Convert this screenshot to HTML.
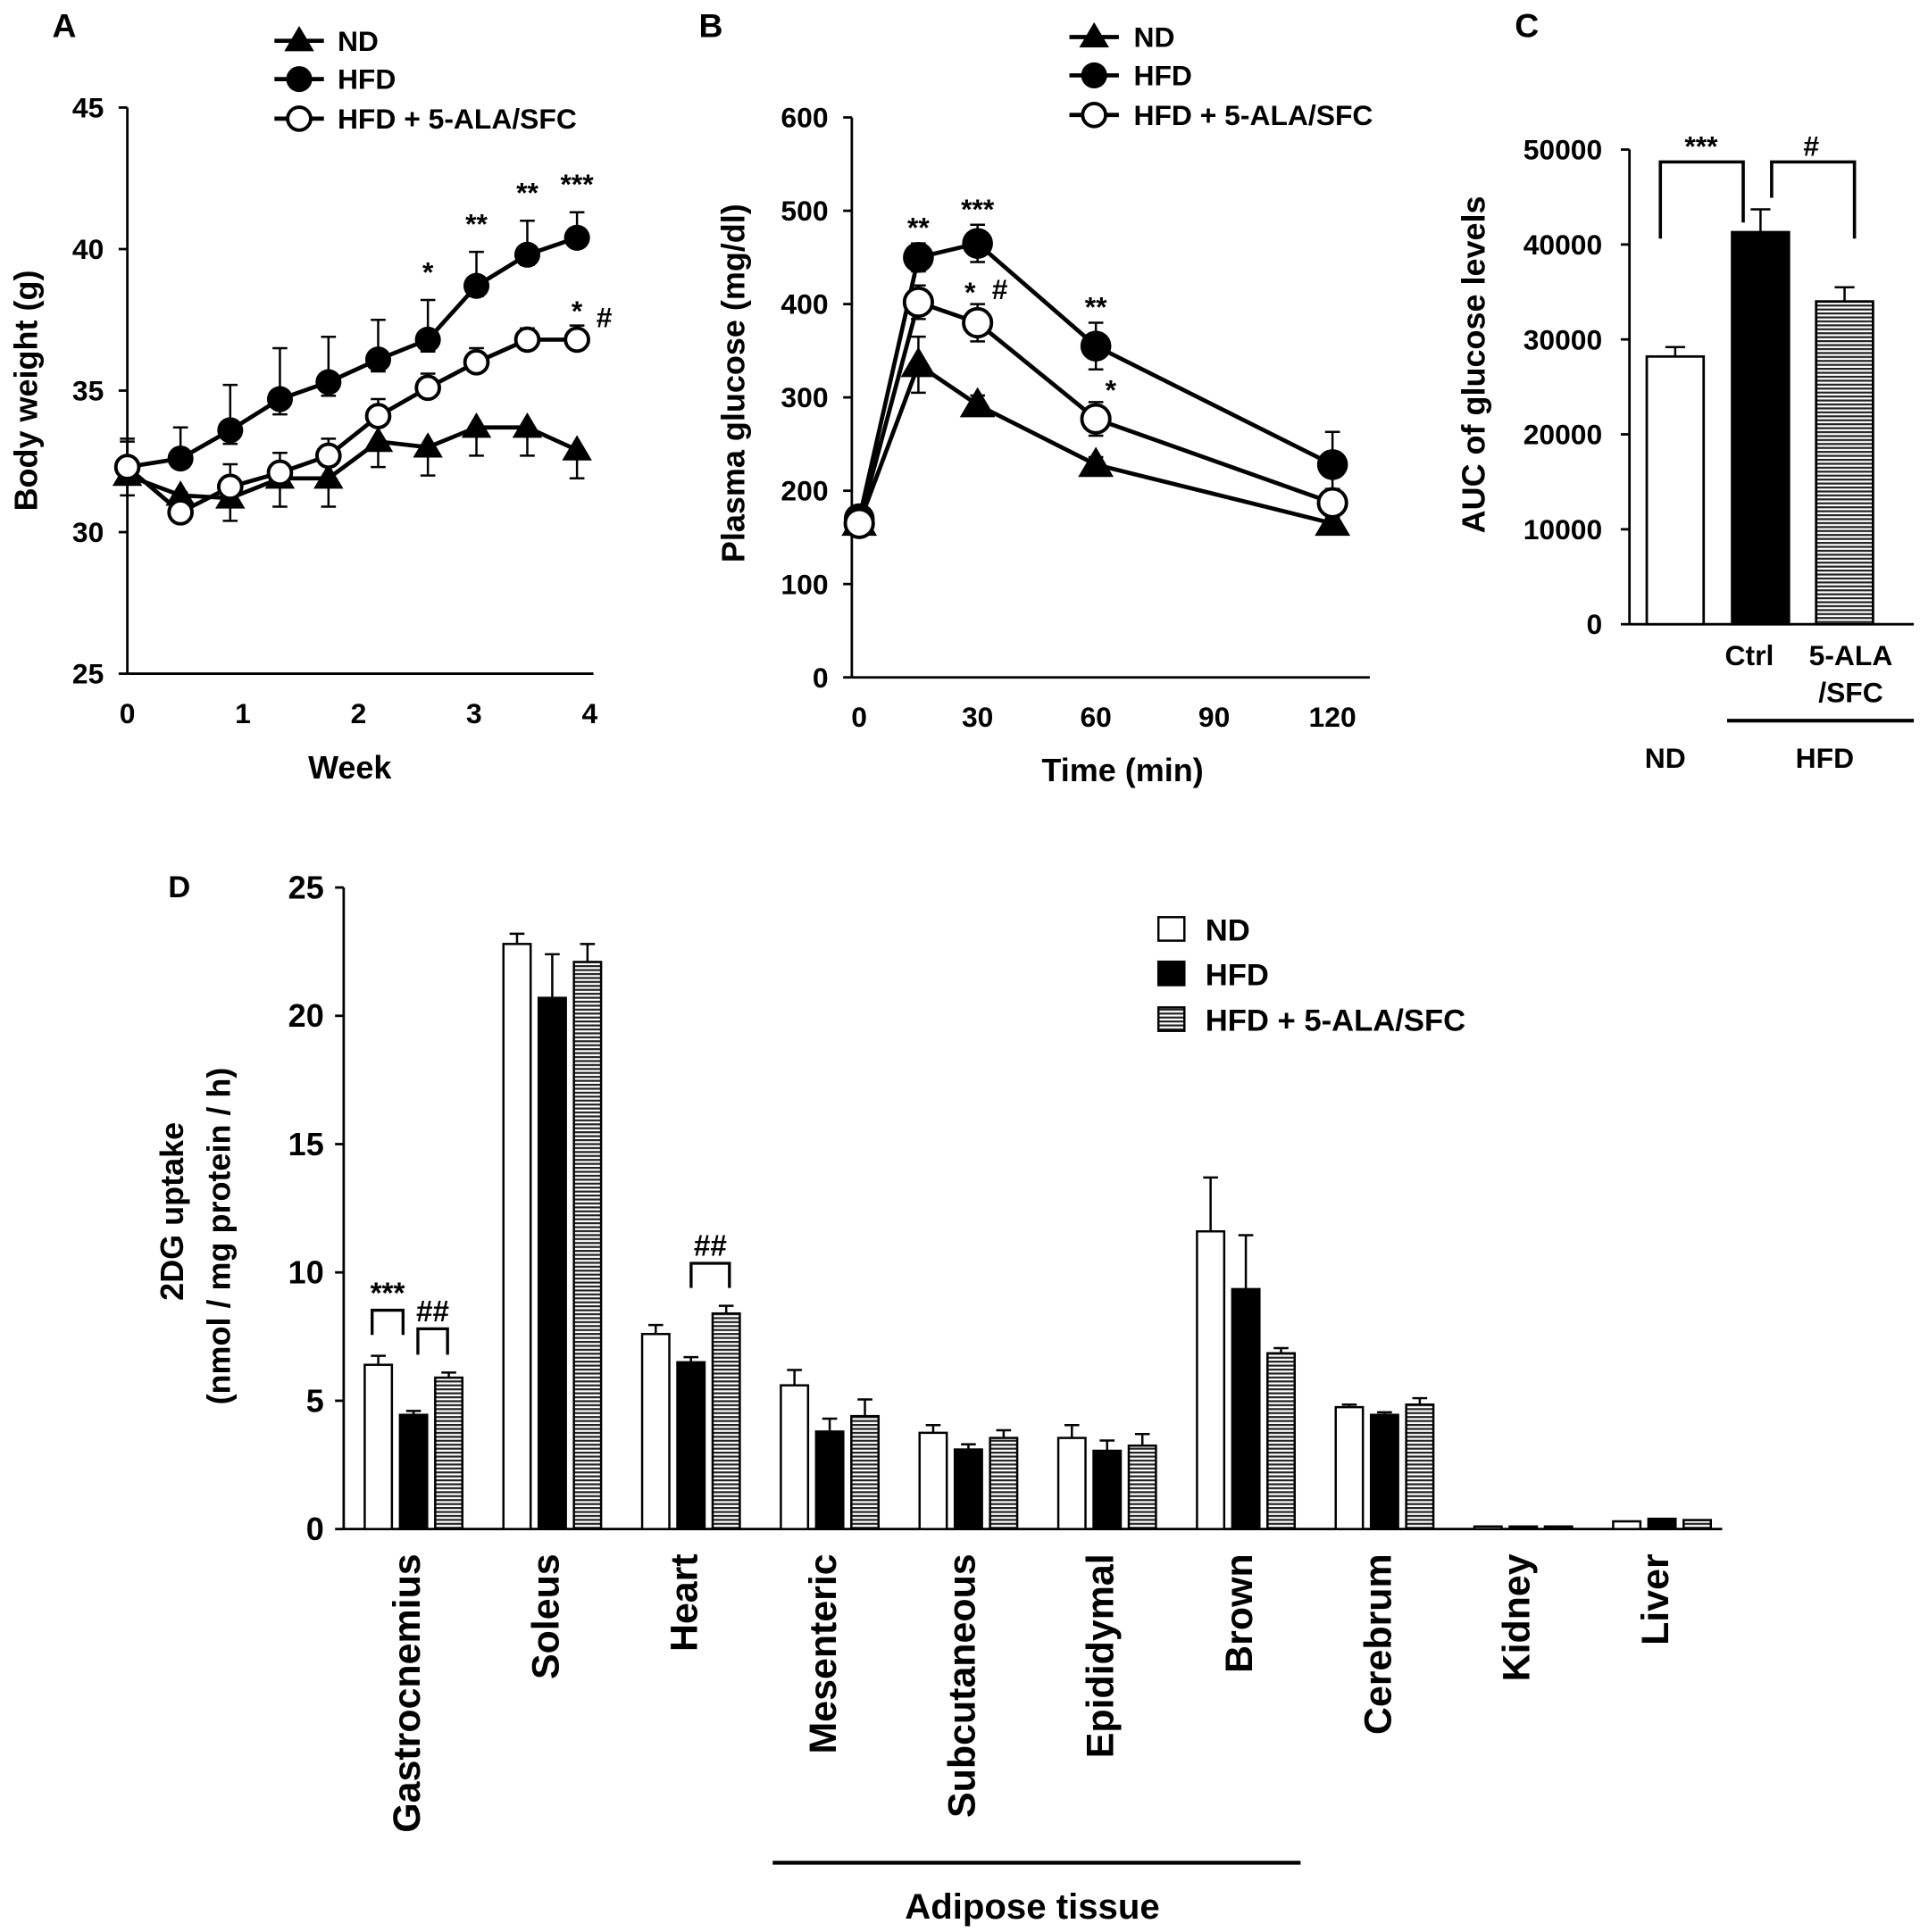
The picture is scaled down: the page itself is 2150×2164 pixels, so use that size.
<!DOCTYPE html>
<html><head><meta charset="utf-8"><style>
html,body{margin:0;padding:0;background:#fff}
svg{display:block}
text{font-family:"Liberation Sans",Arial,sans-serif;font-weight:bold;fill:#000}
</style></head><body>
<svg id="fig" width="2150" height="2164" viewBox="0 0 1553 1563" preserveAspectRatio="none" xmlns="http://www.w3.org/2000/svg">
<defs>
<pattern id="hatch" width="4" height="3.2" patternUnits="userSpaceOnUse"><rect width="4" height="3.2" fill="#fff"/><rect width="4" height="1.6" fill="#222"/></pattern>
</defs>
<g id="gA"></g>
<g id="gB"></g>
<g id="gC"></g>
<g id="gD"></g>
</svg>
<script>
// ---- Panel A data ----
const aWeeks=[0,0.46,0.89,1.32,1.74,2.17,2.6,3.02,3.46,3.89];
const aND=[32.0,31.3,31.2,31.9,31.9,33.2,33.0,33.7,33.7,32.9];
const aNDerr=[0.7,0.6,0.8,1.0,1.0,0.9,1.0,1.0,1.0,1.0];
const aHFD=[32.3,32.6,33.6,34.7,35.3,36.1,36.8,38.7,39.8,40.4];
const aHFDerr=[1.0,1.1,1.6,1.8,1.6,1.4,1.4,1.2,1.2,0.9];
const aALA=[32.3,30.7,31.6,32.1,32.7,34.1,35.1,36.0,36.8,36.8];
const aALAerr=[0.9,0.7,0.8,0.7,0.6,0.6,0.5,0.5,0.4,0.5];
const aYTicks=[25,30,35,40,45];
const aXTicks=[0,1,2,3,4];
// ---- Panel B data ----
const bTimes=[0,15,30,60,120];
const bND=[165,335,292,228,165];
const bNDerr=[5,30,10,8,5];
const bHFD=[170,450,465,355,228];
const bHFDerr=[10,15,20,25,35];
const bALA=[165,402,380,277,187];
const bALAerr=[10,18,20,18,15];
const bYTicks=[0,100,200,300,400,500,600];
const bXTicks=[0,30,60,90,120];
// ---- Panel C data ----
const cGroups=["ND","Ctrl","5-ALA/SFC"];
const cValues=[28200,41300,34000];
const cErrors=[1000,2400,1500];
const cYTicks=[0,10000,20000,30000,40000,50000];
// ---- Panel D data ----
const dTissues=["Gastrocnemius","Soleus","Heart","Mesenteric","Subcutaneous","Epididymal","Brown","Cerebrum","Kidney","Liver"];
const dND=[6.4,22.8,7.6,5.6,3.75,3.55,11.6,4.75,0.1,0.3];
const dNDerr=[0.35,0.4,0.35,0.6,0.3,0.5,2.1,0.1,0,0];
const dHFD=[4.45,20.7,6.5,3.8,3.1,3.05,9.35,4.45,0.1,0.4];
const dHFDerr=[0.15,1.7,0.2,0.5,0.2,0.4,2.1,0.1,0,0];
const dALA=[5.9,22.1,8.4,4.4,3.55,3.25,6.85,4.85,0.1,0.35];
const dALAerr=[0.2,0.7,0.3,0.65,0.3,0.45,0.2,0.25,0,0];
const dYTicks=[0,5,10,15,20,25];

const NS="http://www.w3.org/2000/svg";
function mk(parent,tag,attrs,txt){const e=document.createElementNS(NS,tag);for(const k in attrs)e.setAttribute(k,attrs[k]);if(txt!==undefined)e.textContent=txt;parent.appendChild(e);return e;}
function line(p,x1,y1,x2,y2,w){return mk(p,'line',{x1,y1,x2,y2,stroke:'#000','stroke-width':w||2});}
function txt(p,x,y,s,size,anchor,extra){const a={x,y,'font-size':size,'text-anchor':anchor||'middle'};if(extra)for(const k in extra)a[k]=extra[k];return mk(p,'text',a,s);}
function marker(p,type,x,y,r){
  if(type==='tri') return mk(p,'polygon',{points:`${x},${y-r*1.15} ${x-r*1.15},${y+r*0.8} ${x+r*1.15},${y+r*0.8}`,fill:'#000'});
  if(type==='dot') return mk(p,'circle',{cx:x,cy:y,r:r,fill:'#000'});
  return mk(p,'circle',{cx:x,cy:y,r:r-1.2,fill:'#fff',stroke:'#000','stroke-width':2.8});
}
function errbar(p,x,y1,y2,cap){line(p,x,y1,x,y2,1.8);line(p,x-cap,y2,x+cap,y2,1.8);}

// ===== Panel A =====
(function(){
  const g=document.getElementById('gA');
  const X=w=>103+w*93.5, Y=v=>545-(v-25)*(458/20);
  txt(g,52,30,'A',27);
  line(g,103,87,103,545);line(g,103,545,480,545);
  aYTicks.forEach(t=>{line(g,96,Y(t),103,Y(t));const e=txt(g,84,Y(t)+8,t,23,'end');});
  aXTicks.forEach(t=>{const e=txt(g,X(t),585,t,23);});
  const xt=txt(g,283,630,'Week',26);
  const yt=txt(g,0,0,'Body  weight (g)',26,'middle',{transform:'translate(30,316) rotate(-90)'});
  const series=[[aND,aNDerr,'tri',-1],[aHFD,aHFDerr,'dot',1],[aALA,aALAerr,'open',1]];
  series.forEach(([vals,err,type,dir])=>{
    vals.forEach((v,i)=>{errbar(g,X(aWeeks[i]),Y(v),Y(v+dir*err[i]),6);if(type==='dot'||type==='open')errbar(g,X(aWeeks[i]),Y(v),Y(v-err[i]*0.3),6);});
    const pts=vals.map((v,i)=>X(aWeeks[i])+','+Y(v)).join(' ');
    const pl=mk(g,'polyline',{points:pts,fill:'none',stroke:'#000','stroke-width':3.4});
    
  });
  series.forEach(([vals,err,type])=>{vals.forEach((v,i)=>{const m=marker(g,type,X(aWeeks[i]),Y(v),10.5);});});
  const ann=[[6,'*'],[7,'**'],[8,'**'],[9,'***']];
  ann.forEach(([i,s])=>txt(g,X(aWeeks[i]),Y(aHFD[i]+aHFDerr[i])-15,s,23));
  txt(g,X(aWeeks[9]),Y(aALA[9]+aALAerr[9])-4,'*',23);
  txt(g,X(aWeeks[9])+22,Y(aALA[9])-10,'#',23);
  const leg=[['tri','ND',33],['dot','HFD',64],['open','HFD + 5-ALA/SFC',96]];
  leg.forEach(([t,s,y])=>{const lg=mk(g,'g',{});line(lg,222,y,262,y,3.4);marker(lg,t,242,y,10.5);txt(lg,273,y+8,s,23,'start');});
})();

// ===== Panel B =====
(function(){
  const g=document.getElementById('gB');
  const X=t=>695+t*3.19, Y=v=>548-v*(453/600);
  txt(g,575,30,'B',27);
  line(g,689,95,689,548);line(g,689,548,1108,548);
  bYTicks.forEach(t=>{line(g,682,Y(t),689,Y(t));const e=txt(g,670,Y(t)+8,t,23,'end');});
  bXTicks.forEach(t=>{const e=txt(g,X(t),588,t,23);});
  const xt=txt(g,908,632,'Time (min)',26);
  const yt=txt(g,0,0,'Plasma  glucose (mg/dl)',26,'middle',{transform:'translate(602,310) rotate(-90)'});
  const series=[[bND,bNDerr,'tri'],[bHFD,bHFDerr,'dot'],[bALA,bALAerr,'open']];
  series.forEach(([vals,err])=>{
    vals.forEach((v,i)=>{errbar(g,X(bTimes[i]),Y(v-err[i]),Y(v+err[i]),6);line(g,X(bTimes[i])-6,Y(v-err[i]),X(bTimes[i])+6,Y(v-err[i]),1.8);});
    const pl=mk(g,'polyline',{points:vals.map((v,i)=>X(bTimes[i])+','+Y(v)).join(' '),fill:'none',stroke:'#000','stroke-width':3.4});
    
  });
  series.forEach(([vals,err,type])=>{vals.forEach((v,i)=>{const m=marker(g,type,X(bTimes[i]),Y(v),12.5);});});
  [[1,'**'],[2,'***'],[3,'**']].forEach(([i,s])=>txt(g,X(bTimes[i]),Y(bHFD[i]+bHFDerr[i])-5,s,23));
  txt(g,X(bTimes[2])-6,Y(bALA[2]+bALAerr[2])-2,'*',23);
  txt(g,X(bTimes[2])+18,Y(bALA[2]+bALAerr[2])-4,'#',23);
  txt(g,X(bTimes[3])+12,Y(bALA[3]+bALAerr[3])-2,'*',23);
  const leg=[['tri','ND',30],['dot','HFD',61],['open','HFD + 5-ALA/SFC',93]];
  leg.forEach(([t,s,y])=>{const lg=mk(g,'g',{});line(lg,865,y,905,y,3.4);marker(lg,t,885,y,10.5);txt(lg,917,y+8,s,23,'start');});
})();

// ===== Panel C =====
(function(){
  const g=document.getElementById('gC');
  const Y=v=>505-v*(384/50000);
  const bx=[1332,1401,1469], bw=46;
  const fills=['#fff','#000','url(#hatch)'];
  txt(g,1235,30,'C',27);
  line(g,1318,121,1318,505);line(g,1318,505,1548,505);
  cYTicks.forEach(t=>{line(g,1311,Y(t),1318,Y(t));const e=txt(g,1296,Y(t)+8,t,23,'end');});
  const yt=txt(g,0,0,'AUC of glucose levels',26,'middle',{transform:'translate(1201,295) rotate(-90)'});
  cValues.forEach((v,i)=>{
    errbar(g,bx[i]+bw/2,Y(v),Y(v+cErrors[i]),8);
    const r=mk(g,'rect',{x:bx[i],y:Y(v),width:bw,height:505-Y(v),fill:fills[i],stroke:'#000','stroke-width':2});
    
  });
  const bt=131;
  mk(g,'polyline',{points:`1343,193 1343,${bt} 1410,${bt} 1410,180`,fill:'none',stroke:'#000','stroke-width':2.6});
  mk(g,'polyline',{points:`1433,160 1433,${bt} 1500,${bt} 1500,193`,fill:'none',stroke:'#000','stroke-width':2.6});
  txt(g,1376,126,'***',23);txt(g,1465,126,'#',23);
  txt(g,1415,538,'Ctrl',23);txt(g,1497,538,'5-ALA',23);txt(g,1497,568,'/SFC',23);
  line(g,1397,583,1548,583,3);
  txt(g,1347,621,'ND',23);txt(g,1476,621,'HFD',23);
})();

// ===== Panel D =====
(function(){
  const g=document.getElementById('gD');
  const Y=v=>1237-v*(519/25);
  const G0=295, GS=112.2, bw=22, step=28.5;
  txt(g,145,726,'D',25);
  line(g,278,718,278,1237);line(g,278,1237,1393,1237);
  dYTicks.forEach(t=>{line(g,271,Y(t),278,Y(t));const e=txt(g,262,Y(t)+9,t,26,'end');});
  const t1=txt(g,0,0,'2DG uptake',26,'middle',{transform:'translate(148,980) rotate(-90)'});
  txt(g,0,0,'(nmol / mg protein / h)',26,'middle',{transform:'translate(186,1000) rotate(-90)'});
  const ser=[[dND,dNDerr,'#fff'],[dHFD,dHFDerr,'#000'],[dALA,dALAerr,'url(#hatch)']];
  dTissues.forEach((name,gi)=>{
    ser.forEach(([vals,err,fill],si)=>{
      const x=G0+gi*GS+si*step, v=vals[gi];
      if(err[gi]>0)errbar(g,x+bw/2,Y(v),Y(v+err[gi]),6);
      const r=mk(g,'rect',{x,y:Y(v),width:bw,height:Math.max(1237-Y(v),2),fill,stroke:'#000','stroke-width':1.8});
      
    });
    const cx=G0+gi*GS+step+bw/2+5;
    const lab=txt(g,0,0,name,31,'end',{transform:`translate(${cx},1257) rotate(-90)`});
    
  });
  const br=(x1,x2,ytop,ybot,s)=>{mk(g,'polyline',{points:`${x1},${ybot} ${x1},${ytop} ${x2},${ytop} ${x2},${ybot}`,fill:'none',stroke:'#000','stroke-width':2.4});txt(g,(x1+x2)/2,ytop-6,s,24);};
  br(301,326,1060,1080,'***');br(338,362,1075,1096,'##');br(559,590,1022,1042,'##');
  line(g,625,1507,1052,1507,3.2);
  txt(g,835,1552,'Adipose tissue',29);
  const leg=[['#fff','ND',752],['#000','HFD',788],['url(#hatch)','HFD + 5-ALA/SFC',825]];
  leg.forEach(([f,s,y])=>{const lg=mk(g,'g',{});mk(lg,'rect',{x:937,y:y-10,width:21,height:19,fill:f,stroke:'#000','stroke-width':1.8});txt(lg,975,y+9,s,25,'start');});
})();
</script>
</body></html>
